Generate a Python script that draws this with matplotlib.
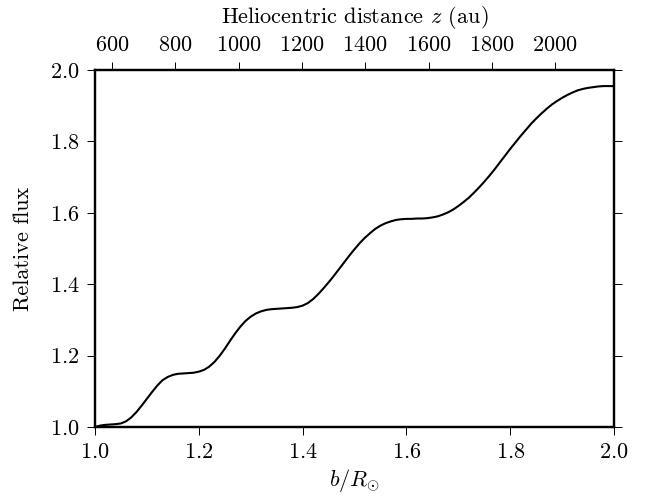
#!/usr/bin/env python3

import matplotlib
matplotlib.use("Agg")
from matplotlib.pyplot import close, figure, savefig

# impact parameter b / R_sun
b = [
    1.00, 1.01, 1.02, 1.03, 1.04, 1.05, 1.06, 1.07, 1.08, 1.09,
    1.10, 1.11, 1.12, 1.13, 1.14, 1.15, 1.16, 1.17, 1.18, 1.19,
    1.20, 1.21, 1.22, 1.23, 1.24, 1.25, 1.26, 1.27, 1.28, 1.29,
    1.30, 1.31, 1.32, 1.33, 1.34, 1.35, 1.36, 1.37, 1.38, 1.39,
    1.40, 1.41, 1.42, 1.43, 1.44, 1.45, 1.46, 1.47, 1.48, 1.49,
    1.50, 1.51, 1.52, 1.53, 1.54, 1.55, 1.56, 1.57, 1.58, 1.59,
    1.60, 1.61, 1.62, 1.63, 1.64, 1.65, 1.66, 1.67, 1.68, 1.69,
    1.70, 1.71, 1.72, 1.73, 1.74, 1.75, 1.76, 1.77, 1.78, 1.79,
    1.80, 1.81, 1.82, 1.83, 1.84, 1.85, 1.86, 1.87, 1.88, 1.89,
    1.90, 1.91, 1.92, 1.93, 1.94, 1.95, 1.96, 1.97, 1.98, 1.99,
    2.00,
]
flux = [
    1.000, 1.004, 1.006, 1.007, 1.008, 1.010, 1.016, 1.027, 1.042, 1.060,
    1.079, 1.098, 1.116, 1.131, 1.140, 1.146, 1.149, 1.150, 1.151, 1.152,
    1.155, 1.160, 1.169, 1.182, 1.199, 1.219, 1.241, 1.262, 1.281, 1.297,
    1.309, 1.318, 1.324, 1.328, 1.330, 1.331, 1.332, 1.333, 1.334, 1.336,
    1.340, 1.347, 1.358, 1.372, 1.388, 1.405, 1.423, 1.442, 1.461, 1.480,
    1.498, 1.515, 1.530, 1.543, 1.555, 1.564, 1.571, 1.576, 1.580, 1.582,
    1.583, 1.583, 1.584, 1.584, 1.585, 1.587, 1.590, 1.595, 1.601, 1.609,
    1.619, 1.630, 1.642, 1.656, 1.671, 1.687, 1.704, 1.722, 1.741, 1.760,
    1.779, 1.797, 1.815, 1.832, 1.849, 1.864, 1.878, 1.891, 1.903, 1.913,
    1.922, 1.930, 1.937, 1.943, 1.947, 1.950, 1.952, 1.954, 1.955, 1.955,
    1.955,
]
b_ticks = [1.0, 1.2, 1.4, 1.6, 1.8, 2.0]
flux_ticks = [1.0, 1.2, 1.4, 1.6, 1.8, 2.0]
z_ticks = [600, 800, 1000, 1200, 1400, 1600, 1800, 2000]
Z_SUN = 546.5  # au at b = 1 R_sun

matplotlib.rcParams.update({
    "font.family": "serif",
    "font.serif": ["cmr10"],
    "mathtext.fontset": "cm",
    "axes.formatter.use_mathtext": True,
    "font.size": 16,
})


def style_ticks(ax):
    ax.tick_params(direction="out", length=6, width=0.7, color="k",
                   labelsize=16, pad=5)
    for spine in ax.spines.values():
        spine.set_linewidth(1.6)


def main():
    fig = figure(figsize=(6.51, 4.99), dpi=100)
    ax = fig.add_axes([0.1459, 0.1443, 0.7973, 0.7154])
    ax.plot(b, flux, color="k", linewidth=1.5)
    ax.set_xlim(1.0, 2.0)
    ax.set_ylim(1.0, 2.0)
    ax.set_xticks(b_ticks)
    ax.set_yticks(flux_ticks)
    ax.xaxis.set_ticks_position("bottom")
    ax.yaxis.set_ticks_position("both")
    style_ticks(ax)
    ax.set_xlabel(r"$b/R_{\odot}$", fontsize=16, labelpad=4)
    ax.set_ylabel("Relative flux", fontsize=16, labelpad=12)

    top = ax.twiny()
    top.set_xlim(Z_SUN * b_ticks[0] ** 2, Z_SUN * b_ticks[-1] ** 2)
    top.set_xticks(z_ticks)
    top.xaxis.set_ticks_position("top")
    style_ticks(top)
    top.set_xlabel(r"Heliocentric distance $z$ (au)", fontsize=16,
                   labelpad=9)

    savefig("out.png", dpi=100)
    close()


if __name__ == "__main__":
    main()
